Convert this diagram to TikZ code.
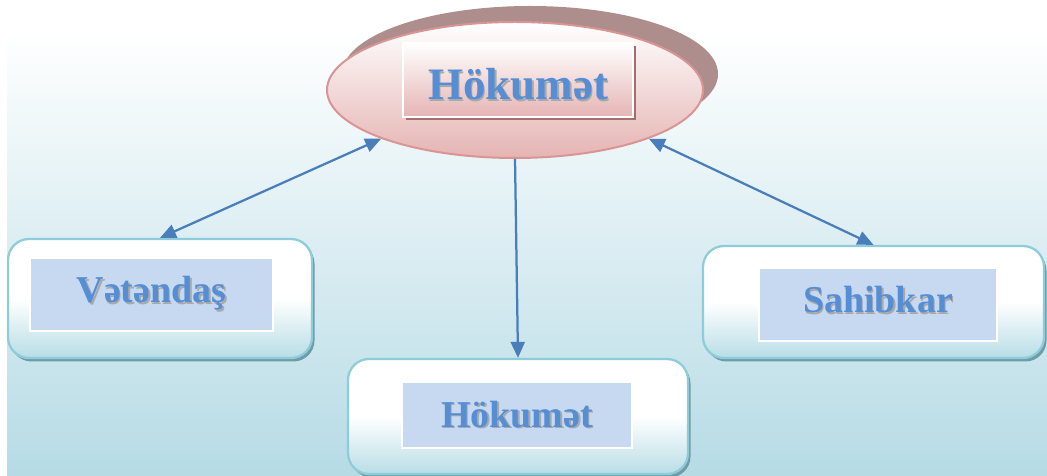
\documentclass[tikz,border=0pt]{standalone}
\usepackage{fontspec}
\setmainfont{Liberation Serif}
\usepackage{xcolor}
\usetikzlibrary{arrows.meta,calc,positioning,shapes.geometric}

\definecolor{bgblue}{HTML}{B6DBE5}
\definecolor{boxrim}{HTML}{8DCCDA}
\definecolor{boxblue}{HTML}{B8DDE6}
\definecolor{boxshadow}{HTML}{6F9CA6}
\definecolor{labelblue}{HTML}{C6D9F0}
\definecolor{txtblue}{HTML}{558ED5}
\definecolor{txtgray}{HTML}{A9A9A9}
\definecolor{ovalrim}{HTML}{D99594}
\definecolor{ovalpink}{HTML}{E5B4B3}
\definecolor{ovalshadow}{HTML}{AE8E8D}
\definecolor{tagshadow}{HTML}{A56E6E}
\definecolor{arrowblue}{HTML}{4A7EBB}

% text with a soft grey copy behind it
\newcommand{\shadowed}[1]{\makebox[0pt][l]{\kern0.9pt\raisebox{-0.9pt}{\color{txtgray}#1}}#1}

\tikzset{
  topoval/.style={ellipse, draw=ovalrim, line width=0.04cm, top color=white, bottom color=ovalpink,
    minimum width=7.52cm, minimum height=2.72cm, inner sep=0pt,
    preaction={fill=ovalshadow, transform canvas={xshift=0.30cm, yshift=0.32cm}}},
  ovaltag/.style={draw=white, line width=0.03cm, top color=white, bottom color=ovalpink,
    inner sep=0pt, text=txtblue,
    preaction={fill=tagshadow, transform canvas={xshift=0.06cm, yshift=-0.06cm}}},
  roundbox/.style={draw=boxrim, line width=0.045cm, rounded corners=0.42cm,
    top color=white, bottom color=boxblue, middle color=white, inner sep=0pt,
    preaction={fill=boxshadow, transform canvas={xshift=0.05cm, yshift=-0.07cm}}},
  labelbox/.style={draw=white, line width=0.03cm, fill=labelblue, inner sep=0pt, text=txtblue,
    font=\fontsize{21.6}{26}\selectfont\bfseries, text depth=0cm},
  oneway/.style={draw=arrowblue, line width=0.045cm, -{Triangle[length=0.32cm,width=0.28cm]}},
  twoway/.style={draw=arrowblue, line width=0.045cm,
    {Triangle[length=0.32cm,width=0.28cm]}-{Triangle[length=0.32cm,width=0.28cm]}}
}

\begin{document}
\begin{tikzpicture}
                        \clip (0,0) rectangle (20.940000,9.500000);
                        \useasboundingbox (0,0) rectangle (20.940000,9.500000);

                        % Drawing the backdrop
                        \shade [top color=white, bottom color=bgblue] (0.140000,0.000000) rectangle (20.940000,8.900000);%

                        % Drawing the oval Hokumet
                        \node [topoval] (hok) at (10.300000,7.700000) {};%
                        \node [ovaltag, minimum width=4.600000cm, minimum height=1.480000cm,
                               font=\fontsize{25.6}{30}\selectfont\bfseries, text height=0.800000cm, text depth=0cm]
                              (hokTag) at (10.360000,7.900000) {\shadowed{Hökumət}};%

                        % Drawing box Vetendas
                        \node [roundbox, minimum width=6.080000cm, minimum height=2.380000cm] (vet) at (3.200000,3.530000) {};%
                        \node [labelbox, minimum width=4.860000cm, minimum height=1.460000cm, text height=0.340000cm]
                              (vetTag) at (3.030000,3.610000) {\shadowed{Vətəndaş}};%

                        % Drawing box Hokumet (lower)
                        \node [roundbox, minimum width=6.800000cm, minimum height=2.300000cm] (low) at (10.360000,1.170000) {};%
                        \node [labelbox, minimum width=4.600000cm, minimum height=1.320000cm, text height=0.480000cm]
                              (lowTag) at (10.340000,1.200000) {\shadowed{Hökumət}};%

                        % Drawing box Sahibkar
                        \node [roundbox, minimum width=6.820000cm, minimum height=2.240000cm] (sah) at (17.470000,3.460000) {};%
                        \node [labelbox, minimum width=4.760000cm, minimum height=1.460000cm, text height=0.340000cm]
                              (sahTag) at (17.560000,3.410000) {\shadowed{Sahibkar}};%

                        % Drawing line hok vet
                        \draw [twoway] (hok.200) -- (vet.north);%

                        % Drawing line hok low
                        \draw [oneway] (hok.south) -- (low.north);%

                        % Drawing line hok sah
                        \draw [twoway] (hok.340) -- (sah.north);%
                    \end{tikzpicture}
\end{document}
